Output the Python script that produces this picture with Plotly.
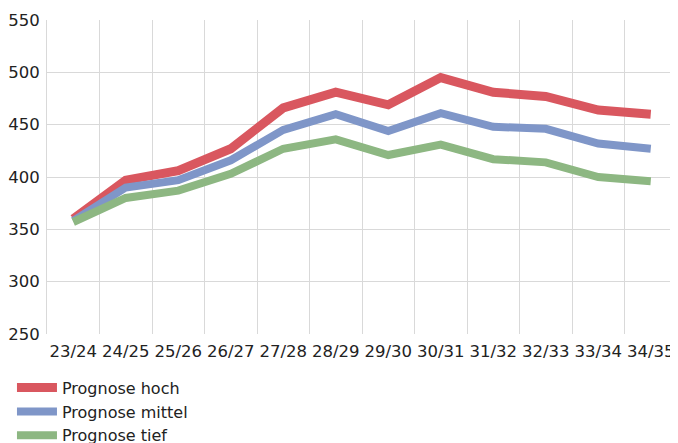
import plotly.graph_objects as go

categories = ["23/24", "24/25", "25/26", "26/27", "27/28", "28/29", "29/30",
              "30/31", "31/32", "32/33", "33/34", "34/35"]
hoch = [360, 397, 406, 427, 466, 481, 469, 495, 481, 477, 464, 460]
mittel = [358, 390, 397, 416, 445, 460, 444, 461, 448, 446, 432, 427]
tief = [357, 380, 387, 403, 427, 436, 421, 431, 417, 414, 400, 396]

series = [
    ("Prognose hoch", hoch, "#d9575f", 9),
    ("Prognose mittel", mittel, "#7f96c8", 8),
    ("Prognose tief", tief, "#8db782", 8),
]

fig = go.Figure()
for name, vals, color, w in series:
    fig.add_trace(go.Scatter(x=categories, y=vals, name=name, mode="lines",
                             line=dict(color=color, width=w)))

font = "DejaVu Sans, Verdana, sans-serif"
fig.update_layout(
    width=670, height=435,
    margin=dict(l=39, r=1, t=12, b=109, autoexpand=False),
    paper_bgcolor="white", plot_bgcolor="white",
    font=dict(family=font, size=16, color="#222222"),
    showlegend=True,
    legend=dict(orientation="v", x=-0.0556, xanchor="left", y=-0.378, yanchor="bottom",
                font=dict(size=16, color="#222222"), itemwidth=40,
                tracegroupgap=0, bgcolor="rgba(0,0,0,0)"),
    xaxis=dict(type="category", tickson="boundaries", showgrid=True,
               gridcolor="#d9d9d9", gridwidth=1, ticks="",
               ticklabelstandoff=5, showline=False, automargin=False,
               tickangle=0, tickfont=dict(size=16.5), range=[-0.5, 11.5]),
    yaxis=dict(range=[250, 550], dtick=50, showgrid=True, gridcolor="#d9d9d9",
               gridwidth=1, ticks="outside", ticklen=3, tickcolor="rgba(0,0,0,0)",
               showline=True, linecolor="#d9d9d9", automargin=False,
               zeroline=False, tickfont=dict(size=16.5)),
)
fig.write_html("out.html")
